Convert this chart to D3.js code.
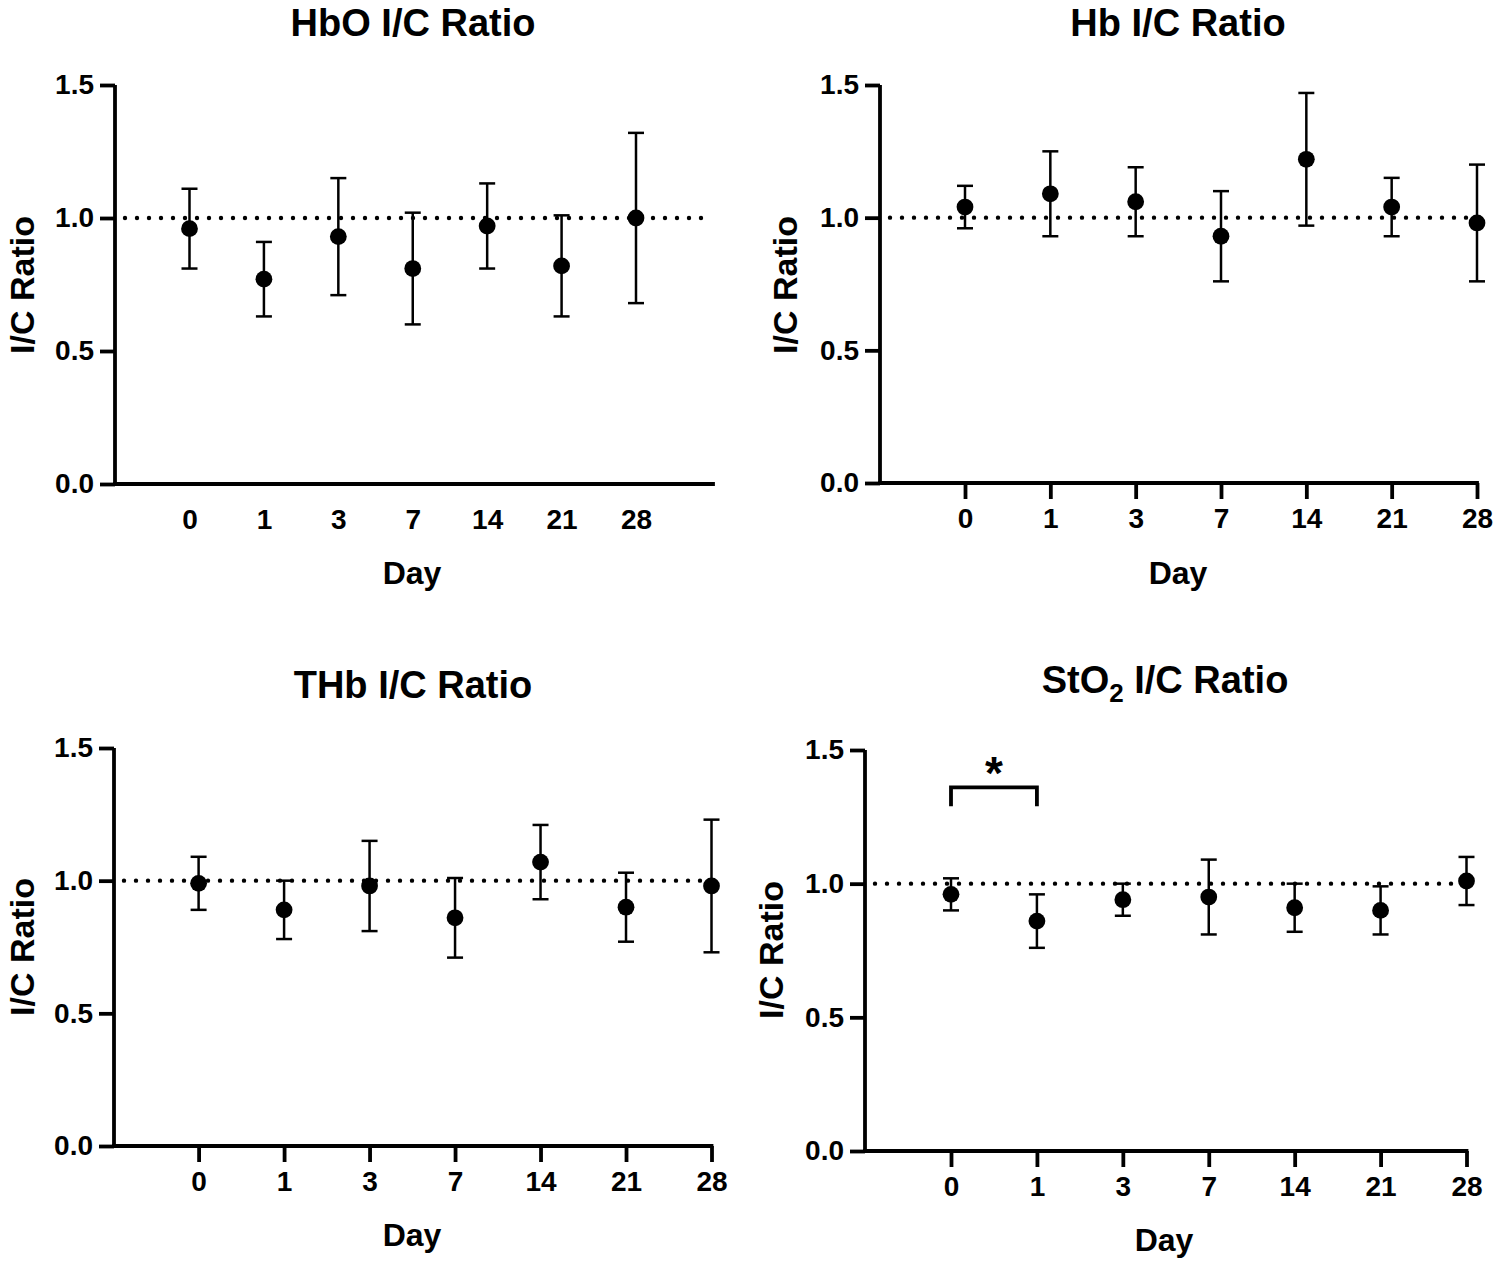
<!DOCTYPE html>
<html><head><meta charset="utf-8">
<script src="https://cdn.jsdelivr.net/npm/d3@7"></script>
<style>body{margin:0;background:#fff}svg{display:block}text{font-family:"Liberation Sans",Arial,sans-serif;font-weight:bold;fill:#000}</style>
</head><body><svg id="c" width="1500" height="1266"></svg>
<script>
const days = ["0","1","3","7","14","21","28"];
const yTicks = [0, 0.5, 1.0, 1.5];
const hboMean = [0.96, 0.77, 0.93, 0.81, 0.97, 0.82, 1.00];
const hboUpper = [1.11, 0.91, 1.15, 1.02, 1.13, 1.01, 1.32];
const hboLower = [0.81, 0.63, 0.71, 0.60, 0.81, 0.63, 0.68];
const hbMean = [1.04, 1.09, 1.06, 0.93, 1.22, 1.04, 0.98];
const hbUpper = [1.12, 1.25, 1.19, 1.10, 1.47, 1.15, 1.20];
const hbLower = [0.96, 0.93, 0.93, 0.76, 0.97, 0.93, 0.76];
const thbMean = [0.99, 0.89, 0.98, 0.86, 1.07, 0.90, 0.98];
const thbUpper = [1.09, 1.00, 1.15, 1.01, 1.21, 1.03, 1.23];
const thbLower = [0.89, 0.78, 0.81, 0.71, 0.93, 0.77, 0.73];
const sto2Mean = [0.96, 0.86, 0.94, 0.95, 0.91, 0.90, 1.01];
const sto2Upper = [1.02, 0.96, 1.00, 1.09, 1.00, 0.99, 1.10];
const sto2Lower = [0.90, 0.76, 0.88, 0.81, 0.82, 0.81, 0.92];
const refLine = 1.0;
const sigPair = ["0", "1"];
const sigBracket = [1.36, 1.29];   // top, leg bottom
const sigStar = "*";

const panels = [
  {title:"HbO", sub:null, mean:hboMean, up:hboUpper, lo:hboLower,
   ax:115, x0:189.5, x6:636, xEnd:713, yTop:85, yBot:484, xTicks:false,
   tx:413, ty:36, dayX:412, dayY:584, ylX:34, ylY:285, tickLabY:521},
  {title:"Hb", sub:null, mean:hbMean, up:hbUpper, lo:hbLower,
   ax:880, x0:965, x6:1477, xEnd:1477, yTop:85, yBot:483, xTicks:true,
   tx:1178, ty:36, dayX:1178, dayY:584, ylX:797, ylY:285, tickLabY:521},
  {title:"THb", sub:null, mean:thbMean, up:thbUpper, lo:thbLower,
   ax:114, x0:198.6, x6:711.5, xEnd:711.5, yTop:748, yBot:1146, xTicks:true,
   tx:413, ty:698, dayX:412, dayY:1246, ylX:34, ylY:947, tickLabY:1185},
  {title:"StO", sub:"2", mean:sto2Mean, up:sto2Upper, lo:sto2Lower,
   ax:865, x0:951, x6:1466.5, xEnd:1466.5, yTop:750, yBot:1151, xTicks:true,
   tx:1165, ty:693, dayX:1164, dayY:1251, ylX:783, ylY:950, tickLabY:1188, sig:true}
];

const svg = d3.select("#c");
panels.forEach(p => {
  const g = svg.append("g");
  const xi = d3.scaleLinear().domain([0, days.length-1]).range([p.x0, p.x6]);
  const x = d => xi(days.indexOf(d));
  const y = d3.scaleLinear().domain([0, 1.5]).range([p.yBot, p.yTop]);

  // y axis
  const yAxis = d3.axisLeft(y).tickValues(yTicks).tickFormat(d3.format(".1f")).tickSize(15).tickPadding(6);
  const ya = g.append("g").attr("transform", `translate(${p.ax},0)`).call(yAxis);
  ya.select(".domain").attr("d", `M0,${p.yTop}V${p.yBot}`).attr("stroke","#000").attr("stroke-width",3.8);
  ya.selectAll(".tick line").attr("stroke","#000").attr("stroke-width",3.8);
  ya.selectAll(".tick text").style("font-size","28px").style("font-family","Liberation Sans, Arial").style("font-weight","bold").attr("fill","#000");

  // x axis
  const xs = d3.scaleLinear().domain([p.ax, p.xEnd]).range([p.ax, p.xEnd]);
  const xAxis = d3.axisBottom(xs).tickValues(days.map(x)).tickFormat((d,i)=>days[i])
      .tickSize(p.xTicks ? 16 : 0).tickPadding(p.xTicks ? 9 : 25);
  const xa = g.append("g").attr("transform", `translate(0,${p.yBot})`).call(xAxis);
  xa.select(".domain").attr("d", `M${p.ax-1.9},0H${p.xEnd+1.9}`).attr("stroke","#000").attr("stroke-width",3.8);
  xa.selectAll(".tick line").attr("stroke","#000").attr("stroke-width",3.8);
  xa.selectAll(".tick text").style("font-size","28px").style("font-family","Liberation Sans, Arial").style("font-weight","bold").attr("fill","#000");

  // reference dotted line
  g.append("line").attr("x1", p.ax+10).attr("x2", p.xEnd).attr("y1", y(refLine)).attr("y2", y(refLine))
    .attr("stroke","#000").attr("stroke-width",4.4).attr("stroke-linecap","round").attr("stroke-dasharray","0 12");

  // error bars
  const eb = g.append("g");
  days.forEach((d,i) => {
    eb.append("line").attr("x1",x(d)).attr("x2",x(d)).attr("y1",y(p.up[i])).attr("y2",y(p.lo[i]))
      .attr("stroke","#000").attr("stroke-width",2.5);
    [p.up[i], p.lo[i]].forEach(v => {
      eb.append("line").attr("x1",x(d)-8).attr("x2",x(d)+8).attr("y1",y(v)).attr("y2",y(v))
        .attr("stroke","#000").attr("stroke-width",2.5);
    });
  });
  // points
  g.append("g").selectAll("circle").data(days).join("circle")
    .attr("cx", d=>x(d)).attr("cy", (d,i)=>y(p.mean[i])).attr("r", 8.4).attr("fill","#000");

  // title
  const t = g.append("text").attr("x", p.tx).attr("y", p.ty).attr("text-anchor","middle").style("font-size","38px");
  t.append("tspan").text(p.title);
  if (p.sub) {
    t.append("tspan").text(p.sub).style("font-size","26px").attr("dy", 9);
    t.append("tspan").text(" I/C Ratio").attr("dy", -9);
  } else {
    t.append("tspan").text(" I/C Ratio");
  }
  // day label
  g.append("text").attr("x", p.dayX).attr("y", p.dayY).attr("text-anchor","middle").style("font-size","32px").text("Day");
  // y label
  g.append("text").attr("transform", `translate(${p.ylX},${p.ylY}) rotate(-90)`).attr("text-anchor","middle")
    .style("font-size","34px").text("I/C Ratio");

  if (p.sig) {
    const xa0 = x(sigPair[0]), xa1 = x(sigPair[1]);
    g.append("path").attr("d", `M${xa0},${y(sigBracket[1])}V${y(sigBracket[0])}H${xa1}V${y(sigBracket[1])}`)
      .attr("fill","none").attr("stroke","#000").attr("stroke-width",3.8);
    g.append("text").attr("x", (xa0+xa1)/2).attr("y", y(sigBracket[0]) + 2).attr("text-anchor","middle")
      .style("font-size","46px").text(sigStar);
  }
});
</script></body></html>
